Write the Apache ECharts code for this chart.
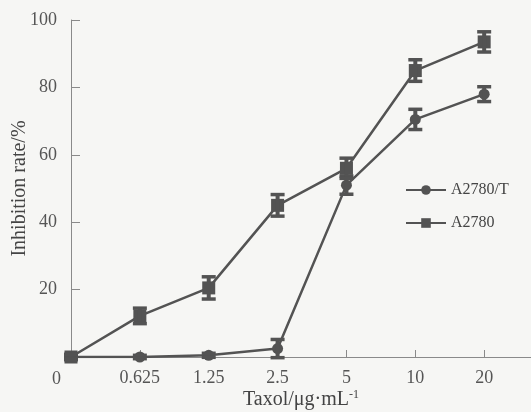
<!DOCTYPE html>
<html><head><meta charset="utf-8">
<script src="https://cdn.jsdelivr.net/npm/echarts@6/dist/echarts.min.js"></script>
<style>html,body{margin:0;padding:0;background:#f6f6f4}#c{width:531px;height:412px}</style>
</head><body><div id="c"></div>
<script>
var tickLabels = ['', '0.625', '1.25', '2.5', '5', '10', '20'];
var a2780T = [0, 0, 0.5, 2.5, 51, 70.5, 78];
var a2780T_err = [0.5, 0.5, 0.6, 2.7, 2.7, 3, 2.2];
var a2780 = [0, 12.2, 20.5, 45, 56, 85, 93.5];
var a2780_err = [0.8, 2.3, 3.3, 3.2, 3, 3.2, 3];

var col = '#535353';
var font = 'Liberation Serif';
function pairs(v){ return v.map(function(y,i){ return [i,y]; }); }
function errData(v,e){ return v.map(function(y,i){ return [i,y,e[i]]; }); }
function errRender(params, api){
  var x = api.value(0), y = api.value(1), e = api.value(2);
  var hi = api.coord([x, y + e]), lo = api.coord([x, y - e]);
  var w = 7;
  var st = {stroke: col, lineWidth: 3.5};
  return {type:'group', children:[
    {type:'line', shape:{x1:hi[0],y1:hi[1],x2:lo[0],y2:lo[1]}, style:{stroke: col, lineWidth: 4}},
    {type:'line', shape:{x1:hi[0]-w,y1:hi[1],x2:hi[0]+w,y2:hi[1]}, style:st},
    {type:'line', shape:{x1:lo[0]-w,y1:lo[1],x2:lo[0]+w,y2:lo[1]}, style:st}
  ]};
}
var chart = echarts.init(document.getElementById('c'));
chart.setOption({
  backgroundColor: '#f6f6f4',
  animation: false,
  textStyle: {fontFamily: font},
  grid: {left: 71, right: 0, top: 20, bottom: 55, containLabel: false, outerBoundsMode: 'none'},
  legend: {
    orient: 'vertical', left: 400, top: 177, itemWidth: 40, itemHeight: 12, itemGap: 17,
    textStyle: {fontFamily: font, fontSize: 16, color: '#444'},
    data: ['A2780/T', 'A2780']
  },
  xAxis: {
    type: 'value', min: 0, max: 6.68, interval: 1,
    name: 'Taxol/μg·mL{s|-1}', nameLocation: 'middle', nameGap: 32, nameMoveOverlap: false,
    nameTextStyle: {fontFamily: font, fontSize: 20, color: '#444',
      rich: {s: {fontFamily: font, fontSize: 12, color: '#444', verticalAlign: 'top', padding: [0,0,10,0]}}},
    axisLine: {lineStyle: {color: '#8a8a8a', width: 1}},
    axisTick: {inside: true, length: 7, lineStyle: {color: '#8a8a8a'}},
    axisLabel: {fontFamily: font, fontSize: 18, color: '#555', margin: 12, showMaxLabel: false,
      formatter: function(v){ return tickLabels[Math.round(v)] || ''; }},
    splitLine: {show: false}
  },
  yAxis: {
    type: 'value', min: 0, max: 100, interval: 20,
    name: 'Inhibition rate/%', nameLocation: 'middle', nameGap: 41, nameMoveOverlap: false,
    nameTextStyle: {fontFamily: font, fontSize: 20, color: '#444'},
    axisLine: {show: true, lineStyle: {color: '#8a8a8a', width: 1}},
    axisTick: {show: true, inside: true, length: 9, lineStyle: {color: '#8a8a8a'}},
    axisLabel: {fontFamily: font, fontSize: 18, color: '#555', margin: 14,
      formatter: function(v){ return v === 0 ? '' : v; }},
    splitLine: {show: false}
  },
  graphic: [{type: 'text', left: 52, top: 370, style: {text: '0', font: '18px "Liberation Serif"', fill: '#555'}}],
  series: [
    {name: 'A2780/T', type: 'line', data: pairs(a2780T), symbol: 'circle', symbolSize: 11,
      lineStyle: {color: col, width: 2.5}, itemStyle: {color: col}, z: 3},
    {name: 'A2780', type: 'line', data: pairs(a2780), symbol: 'rect', symbolSize: 13,
      lineStyle: {color: col, width: 2.5}, itemStyle: {color: col}, z: 3},
    {type: 'custom', data: errData(a2780T, a2780T_err), renderItem: errRender, z: 4, silent: true},
    {type: 'custom', data: errData(a2780, a2780_err), renderItem: errRender, z: 4, silent: true}
  ]
});
</script></body></html>
